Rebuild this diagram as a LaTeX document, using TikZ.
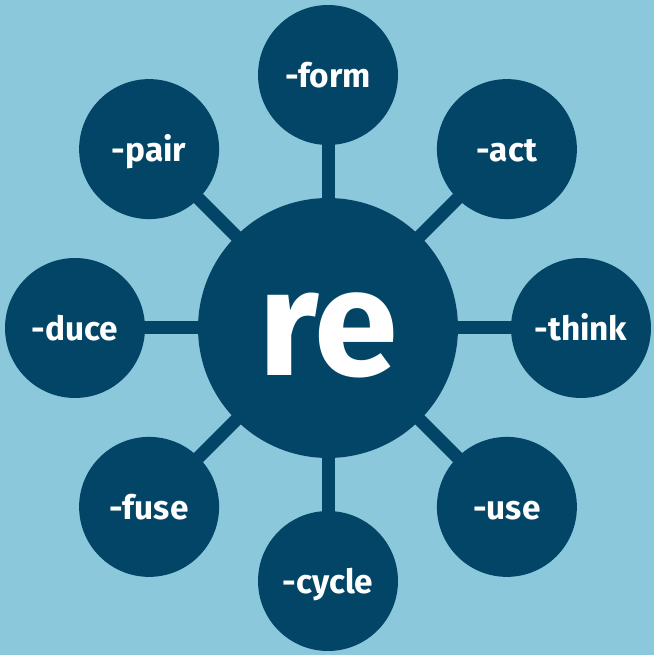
\documentclass[tikz,border=0pt]{standalone}
\usepackage{fontspec}
\setmainfont{Fira Sans}
\usetikzlibrary{positioning, calc}

\definecolor{bgblue}{HTML}{8CC8DB}
\definecolor{darkblue}{HTML}{024567}

\tikzset{
  hubnode/.style={circle, fill=darkblue, minimum size=5.2cm, inner sep=0pt,
    text=white, font=\fontsize{86}{86}\selectfont\bfseries,
    text height=54pt, text depth=0pt},
  leafnode/.style={circle, fill=darkblue, minimum size=2.8cm, inner sep=0pt,
    text=white, font=\fontsize{19}{20}\selectfont\bfseries,
    text height=14.6pt, text depth=0pt},
  spoke/.style={draw=darkblue, line width=0.26cm,
    shorten <=-2pt, shorten >=-2pt}
}

\begin{document}
\begin{tikzpicture}[x=0.02cm, y=0.02cm]

% Background
\fill[bgblue] (0,0) rectangle (654,655);
\useasboundingbox (0,0) rectangle (654,655);

% Hub
\node[hubnode] (hub) at (328,327) {re};

% Suffixes around the hub
\foreach \ang/\name/\txt in {90/form/-form, 45/act/-act, 0/think/-think,
    -45/use/-use, -90/cycle/-cycle, -135/fuse/-fuse, 180/duce/-duce,
    135/pair/-pair} {
  \node[leafnode] (\name) at ($(hub)+(\ang:253)$) {\txt};
  \draw[spoke] (hub) -- (\name);
}

\end{tikzpicture}
\end{document}
